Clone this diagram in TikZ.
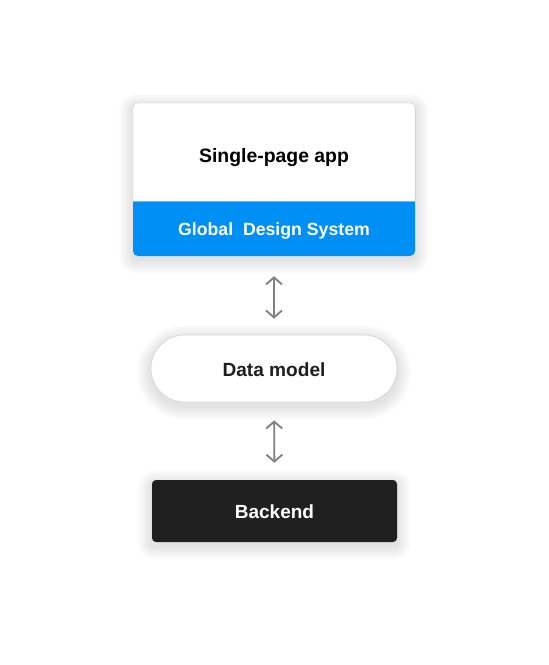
\documentclass[tikz,border=0pt]{standalone}
\usepackage{fontspec}
\setmainfont{Liberation Sans}
\usetikzlibrary{arrows.meta}
\pgfdeclarelayer{background}
\pgfsetlayers{background,main}
\definecolor{gdsblue}{RGB}{0,143,245}
\definecolor{backdark}{RGB}{32,32,32}
\definecolor{arrowgray}{RGB}{128,128,128}
\definecolor{edgegray}{RGB}{214,214,214}
\definecolor{textdark}{RGB}{30,30,30}
\tikzset{
  lbl/.style={font=\bfseries\fontsize{#1}{#1}\selectfont, inner sep=0pt},
  biarrow/.style={draw=arrowgray, line width=1.8pt, {Straight Barb[length=7pt,width=16pt,line width=1.8pt]}-{Straight Barb[length=7pt,width=16pt,line width=1.8pt]}},
  shadowlayer/.style={fill=black, opacity=0.007},
}
% soft shadow under a named node: #1 node, #2 corner radius
\newcommand{\softshadowof}[2]{%
  \begin{pgfonlayer}{background}
  \foreach \i in {1,...,14}{
    \pgfmathsetmacro{\rr}{#2+\i}
    \fill[shadowlayer, rounded corners=\rr pt]
      ([shift={(-\i pt,{4-\i})}]#1.north west) rectangle ([shift={(\i pt,{4+\i})}]#1.south east);
  }
  \end{pgfonlayer}}
\begin{document}
\begin{tikzpicture}[x=1pt,y=-1pt]
\useasboundingbox (0,0) rectangle (549,665);
\begin{pgfonlayer}{background}
\fill[white] (0,0) rectangle (549,665);
\end{pgfonlayer}
% top composite box
\node[minimum width=282pt, minimum height=153pt, inner sep=0pt, rounded corners=5pt, fill=gdsblue] (box) at (274,179.5) {};
\softshadowof{box}{5}
\begin{scope}
  \clip (120,90) rectangle (430,201);
  \fill[white, rounded corners=5pt] (box.south west) rectangle (box.north east);
  \draw[edgegray, line width=0.6pt, rounded corners=5pt] (box.south west) rectangle (box.north east);
\end{scope}
\coordinate (sepL) at (box.west |- 0,201);
\coordinate (sepR) at (box.east |- 0,201);
\draw[edgegray!80!black, line width=0.8pt] (sepL) -- (sepR);
\node[lbl=19.4, text=black] (spa) at (274,157.5) {Single-page app};
\node[lbl=17.7, text=white] (gds) at (274,230.5) {Global\ \ Design System};
% data model
\node[minimum width=246pt, minimum height=67pt, inner sep=0pt, rounded corners=33.5pt, fill=white, draw=edgegray, line width=0.7pt] (dm) at (274,368.5) {};
\softshadowof{dm}{33.5}
\node[lbl=19.1, text=textdark] (dmt) at ([yshift=-1pt]dm.center) {Data model};
% backend
\node[minimum width=245pt, minimum height=62pt, inner sep=0pt, rounded corners=4pt, fill=backdark] (be) at (274.5,511) {};
\softshadowof{be}{4}
\node[lbl=19, text=white] (bet) at ([yshift=-1pt]be.center) {Backend};
% connectors
\draw[biarrow, shorten <=20pt, shorten >=16pt] (box.south) -- (dm.north);
\draw[biarrow, shorten <=18pt, shorten >=17pt] (dm.south) -- (be.north);
\end{tikzpicture}
\end{document}
